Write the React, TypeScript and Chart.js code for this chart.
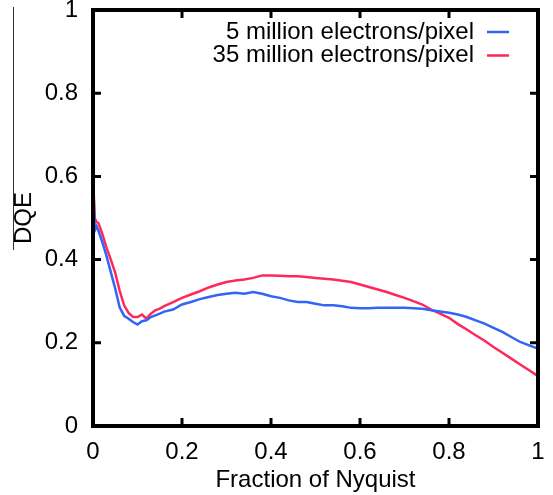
import React, { useEffect, useRef } from "react";
import { Chart, registerables } from "chart.js";

Chart.register(...registerables);

const xValues = [
  0, 0.004, 0.008, 0.012, 0.02, 0.03, 0.04, 0.05, 0.06, 0.07, 0.08, 0.09, 0.1, 0.11, 0.12, 0.13, 0.14, 0.15, 0.16,
  0.18, 0.2, 0.22, 0.24, 0.26, 0.28, 0.3, 0.32, 0.34, 0.36, 0.38, 0.4, 0.42, 0.44, 0.46, 0.48, 0.5, 0.52, 0.54, 0.56,
  0.58, 0.6, 0.62, 0.64, 0.66, 0.68, 0.7, 0.72, 0.74, 0.76, 0.78, 0.8, 0.82, 0.84, 0.86, 0.88, 0.9, 0.92, 0.94, 0.96,
  0.98, 1.0,
];

const blueValues = [
  0.6, 0.47, 0.48, 0.47, 0.445, 0.41, 0.37, 0.33, 0.285, 0.265, 0.258, 0.25, 0.244, 0.252, 0.254, 0.262, 0.266, 0.27,
  0.275, 0.28, 0.292, 0.298, 0.305, 0.31, 0.315, 0.318, 0.32, 0.318, 0.322, 0.318, 0.312, 0.308, 0.302, 0.298, 0.298,
  0.294, 0.29, 0.29, 0.288, 0.284, 0.283, 0.283, 0.284, 0.284, 0.284, 0.284, 0.283, 0.282, 0.278, 0.275, 0.272, 0.268,
  0.262, 0.254, 0.246, 0.236, 0.226, 0.214, 0.202, 0.194, 0.186,
];

const redValues = [
  0.6, 0.5, 0.49, 0.488, 0.465, 0.43, 0.4, 0.368, 0.325, 0.29, 0.272, 0.262, 0.262, 0.268, 0.258, 0.27, 0.278, 0.282,
  0.288, 0.298, 0.308, 0.316, 0.324, 0.333, 0.34, 0.346, 0.35, 0.352, 0.356, 0.362, 0.362, 0.361, 0.36, 0.36, 0.358,
  0.356, 0.354, 0.352, 0.349, 0.346, 0.34, 0.334, 0.328, 0.322, 0.315, 0.308, 0.3, 0.292, 0.28, 0.27, 0.26, 0.245,
  0.232, 0.218, 0.205, 0.19, 0.176, 0.162, 0.148, 0.134, 0.12,
];

const seriesLabels = ["5 million electrons/pixel", "35 million electrons/pixel"];
const seriesColors = ["rgb(50,100,245)", "rgb(255,40,90)"];
const tickValues = [0, 0.2, 0.4, 0.6, 0.8, 1];

const FONT = "'Liberation Sans', Arial, Helvetica, sans-serif";
const FS = 24;

const framePlugin = {
  id: "frame",
  afterDatasetsDraw(chart: any) {
    const { ctx, chartArea } = chart;
    const { left, right, top, bottom } = chartArea;
    const xs = chart.scales.x;
    const ys = chart.scales.y;
    ctx.save();
    ctx.strokeStyle = "#000";
    ctx.lineWidth = 4;
    ctx.strokeRect(left, top, right - left, bottom - top);
    ctx.lineWidth = 3;
    const tl = 8;
    ctx.beginPath();
    tickValues.forEach((v) => {
      const px = xs.getPixelForValue(v);
      ctx.moveTo(px, bottom);
      ctx.lineTo(px, bottom - tl);
      ctx.moveTo(px, top);
      ctx.lineTo(px, top + tl);
      const py = ys.getPixelForValue(v);
      ctx.moveTo(left, py);
      ctx.lineTo(left + tl, py);
      ctx.moveTo(right, py);
      ctx.lineTo(right - tl, py);
    });
    ctx.stroke();

    // legend
    ctx.font = `${FS}px ${FONT}`;
    ctx.textAlign = "right";
    ctx.textBaseline = "middle";
    chart.data.datasets.forEach((ds: any, i: number) => {
      const y = 32 + i * 23.5;
      ctx.fillStyle = "#000";
      ctx.fillText(ds.label, 474, y);
      ctx.strokeStyle = ds.borderColor;
      ctx.lineWidth = 2.5;
      ctx.beginPath();
      ctx.moveTo(487, y);
      ctx.lineTo(509, y);
      ctx.stroke();
    });

    // thin vertical rule at the left
    ctx.strokeStyle = "#333";
    ctx.lineWidth = 1;
    ctx.beginPath();
    ctx.moveTo(13.5, 7);
    ctx.lineTo(13.5, 250);
    ctx.stroke();
    ctx.restore();
  },
};

export default function App() {
  const ref = useRef<HTMLCanvasElement>(null);
  useEffect(() => {
    document.body.style.margin = "0";
    const canvas = ref.current!;
    const chart = new Chart(canvas, {
      type: "line",
      data: {
        labels: xValues,
        datasets: [
          {
            label: seriesLabels[0],
            data: xValues.map((x, i) => ({ x, y: blueValues[i] })),
            borderColor: seriesColors[0],
            borderWidth: 2.5,
            pointRadius: 0,
            tension: 0,
            fill: false,
          },
          {
            label: seriesLabels[1],
            data: xValues.map((x, i) => ({ x, y: redValues[i] })),
            borderColor: seriesColors[1],
            borderWidth: 2.5,
            pointRadius: 0,
            tension: 0,
            fill: false,
          },
        ],
      },
      options: {
        animation: false,
        responsive: false,
        devicePixelRatio: 1,
        layout: { padding: { left: 0, right: 15, top: 10, bottom: 0 } },
        plugins: { legend: { display: false }, tooltip: { enabled: false } },
        scales: {
          x: {
            type: "linear",
            min: 0,
            max: 1,
            grid: { display: false, drawTicks: false },
            border: { display: false },
            afterBuildTicks: (s: any) => {
              s.ticks = tickValues.map((v) => ({ value: v }));
            },
            afterFit: (s: any) => {
              s.height = 69;
              s.paddingLeft = 0;
              s.paddingRight = 0;
            },
            ticks: {
              font: { size: FS, family: FONT },
              color: "#000",
              padding: 12,
              maxRotation: 0,
              callback: (v: any) => String(v),
            },
            title: {
              display: true,
              text: "Fraction of Nyquist",
              font: { size: FS, family: FONT },
              color: "#000",
              padding: { top: 0, bottom: 0 },
            },
          },
          y: {
            type: "linear",
            min: 0,
            max: 1,
            grid: { display: false, drawTicks: false },
            border: { display: false },
            afterBuildTicks: (s: any) => {
              s.ticks = tickValues.map((v) => ({ value: v }));
            },
            afterFit: (s: any) => {
              s.width = 93;
              s.paddingTop = 0;
              s.paddingBottom = 0;
            },
            ticks: {
              font: { size: FS, family: FONT },
              color: "#000",
              padding: 15,
              callback: (v: any) => String(v),
            },
            title: {
              display: true,
              text: "DQE",
              font: { size: FS, family: FONT },
              color: "#000",
              padding: { top: 10, bottom: 0 },
            },
          },
        },
      },
      plugins: [framePlugin],
    } as any);
    return () => chart.destroy();
  }, []);
  return (
    <div style={{ width: 553, height: 495 }}>
      <canvas ref={ref} width={553} height={495} />
    </div>
  );
}
